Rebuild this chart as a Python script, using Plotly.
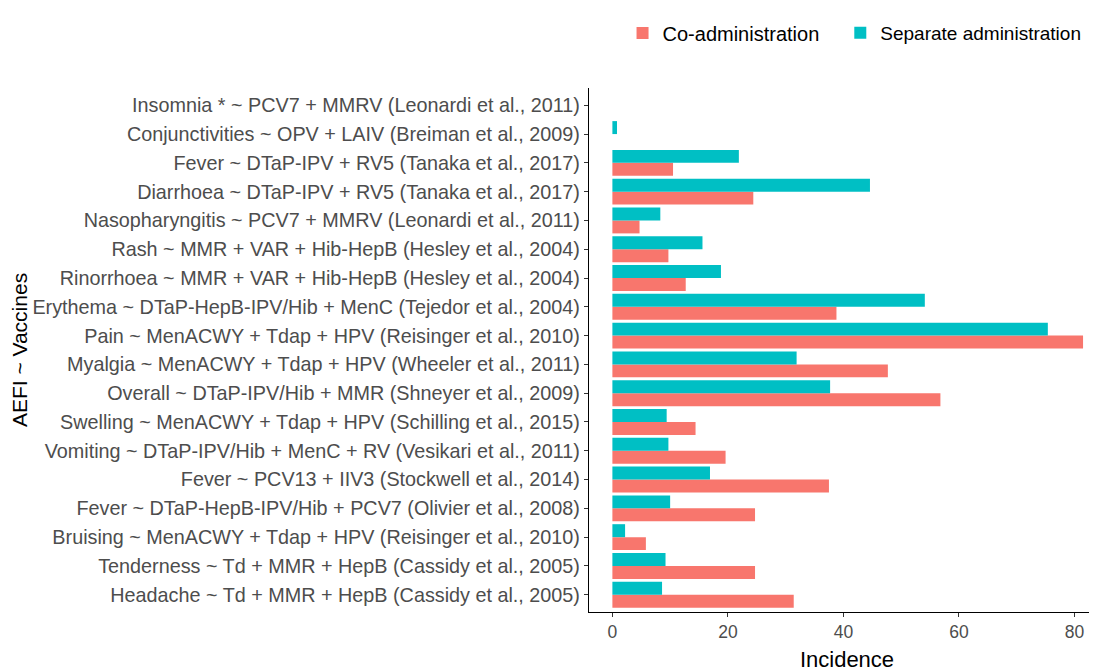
import plotly.graph_objects as go

categories = [
    "Insomnia * ~ PCV7 + MMRV (Leonardi et al., 2011)",
    "Conjunctivities ~ OPV + LAIV (Breiman et al., 2009)",
    "Fever ~ DTaP-IPV + RV5 (Tanaka et al., 2017)",
    "Diarrhoea ~ DTaP-IPV + RV5 (Tanaka et al., 2017)",
    "Nasopharyngitis ~ PCV7 + MMRV (Leonardi et al., 2011)",
    "Rash ~ MMR + VAR + Hib-HepB (Hesley et al., 2004)",
    "Rinorrhoea ~ MMR + VAR + Hib-HepB (Hesley et al., 2004)",
    "Erythema ~ DTaP-HepB-IPV/Hib + MenC (Tejedor et al., 2004)",
    "Pain ~ MenACWY + Tdap + HPV (Reisinger et al., 2010)",
    "Myalgia ~ MenACWY + Tdap + HPV (Wheeler et al., 2011)",
    "Overall ~ DTaP-IPV/Hib + MMR (Shneyer et al., 2009)",
    "Swelling ~ MenACWY + Tdap + HPV (Schilling et al., 2015)",
    "Vomiting ~ DTaP-IPV/Hib + MenC + RV (Vesikari et al., 2011)",
    "Fever ~ PCV13 + IIV3 (Stockwell et al., 2014)",
    "Fever ~ DTaP-HepB-IPV/Hib + PCV7 (Olivier et al., 2008)",
    "Bruising ~ MenACWY + Tdap + HPV (Reisinger et al., 2010)",
    "Tenderness ~ Td + MMR + HepB (Cassidy et al., 2005)",
    "Headache ~ Td + MMR + HepB (Cassidy et al., 2005)",
]
co_admin = [0, 0, 10.5, 24.4, 4.7, 9.7, 12.7, 38.8, 81.5, 47.7, 56.8, 14.4, 19.6, 37.5, 24.7, 5.8, 24.7, 31.4]
separate = [0, 0.8, 21.9, 44.6, 8.3, 15.6, 18.8, 54.1, 75.4, 31.9, 37.7, 9.4, 9.7, 16.9, 10.0, 2.2, 9.2, 8.6]
x_ticks = [0, 20, 40, 60, 80]

fig = go.Figure()
fig.add_trace(go.Bar(y=categories, x=co_admin, orientation="h", name="Co-administration",
                     marker=dict(color="#F8766D", line=dict(width=0)), legend="legend",
                     showlegend=True))
fig.add_trace(go.Bar(y=categories, x=separate, orientation="h", name="Separate administration",
                     marker=dict(color="#00BFC4", line=dict(width=0)), legend="legend2",
                     showlegend=True))

legend_style = dict(orientation="h", y=1.105, xanchor="left", yanchor="middle",
                    bgcolor="rgba(0,0,0,0)")

fig.update_layout(
    width=1097, height=670,
    showlegend=True,
    margin=dict(l=581, r=0, t=80, b=66, autoexpand=False),
    paper_bgcolor="white", plot_bgcolor="white",
    barmode="group", bargap=0.1, bargroupgap=0,
    font=dict(family="Liberation Sans, Arial, sans-serif", size=18, color="black"),
    legend=dict(x=0.065, font=dict(size=20, color="black"), **legend_style),
    legend2=dict(x=0.487, font=dict(size=19, color="black"), **legend_style),
    xaxis=dict(range=[-4.05, 85.3], tickvals=x_ticks, showgrid=False, zeroline=False,
               showline=True, linecolor="black", linewidth=1.2, automargin=False,
               ticks="outside", ticklen=4, tickcolor="#333333",
               tickfont=dict(size=17.5, color="#4D4D4D"),
               title=dict(text="Incidence", font=dict(size=22, color="black"), standoff=10)),
    yaxis=dict(categoryorder="array", categoryarray=categories[::-1], automargin=False,
               showgrid=False, zeroline=False, showline=True, linecolor="black", linewidth=1.2,
               ticks="outside", ticklen=4, tickcolor="#333333",
               tickfont=dict(size=19.8, color="#4D4D4D"),
               range=[-0.6, len(categories) - 0.4],
               title=dict(text="AEFI ~ Vaccines", font=dict(size=21, color="black"), standoff=2)),
)

fig.write_html("out.html")
